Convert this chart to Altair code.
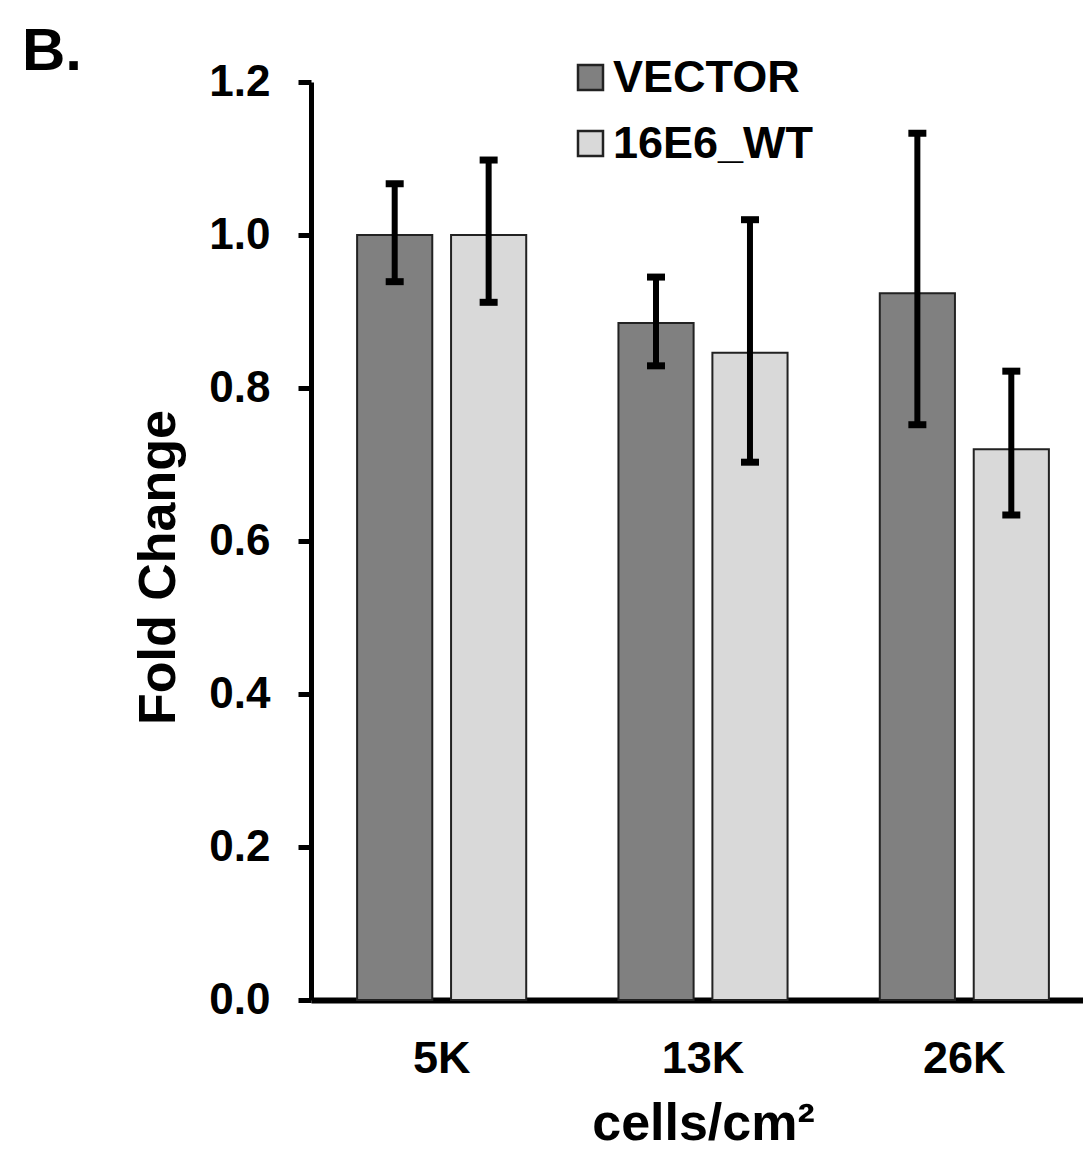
import altair as alt
import pandas as pd

densities = ["5K", "13K", "26K"]
groups = ["VECTOR", "16E6_WT"]
vector_mean = [1.000, 0.885, 0.924]
vector_lo = [0.939, 0.829, 0.752]
vector_hi = [1.067, 0.945, 1.133]
wt_mean = [1.000, 0.846, 0.720]
wt_lo = [0.912, 0.703, 0.634]
wt_hi = [1.098, 1.020, 0.822]

rows = []
for i, d in enumerate(densities):
    rows.append({"density": d, "group": "VECTOR", "mean": vector_mean[i], "lo": vector_lo[i], "hi": vector_hi[i]})
    rows.append({"density": d, "group": "16E6_WT", "mean": wt_mean[i], "lo": wt_lo[i], "hi": wt_hi[i]})
df = pd.DataFrame(rows)

FONT = "Liberation Sans, Arial, Helvetica, sans-serif"

x_enc = alt.X(
    "density:N",
    sort=densities,
    scale=alt.Scale(range=[0, 784], paddingInner=0.281, paddingOuter=0.1405),
    axis=alt.Axis(
        title="cells/cm²",
        labelAngle=0,
        ticks=False,
        grid=False,
        labelPadding=36,
        labelFontSize=45,
        labelFont=FONT,
        labelFontWeight="bold",
        labelColor="black",
        domainColor="black",
        domainWidth=6,
        titleFontSize=52,
        titleFont=FONT,
        titleFontWeight="bold",
        titleColor="black",
        titleBaseline="alphabetic",
        titleX=392,
        titleY=139,
    ),
)
xoff_enc = alt.XOffset("group:N", sort=groups, scale=alt.Scale(paddingInner=0.2, paddingOuter=0.1))

y_scale = alt.Scale(domain=[0, 1.2], nice=False)
y_axis = alt.Axis(
    title="Fold Change",
    values=[0, 0.2, 0.4, 0.6, 0.8, 1.0, 1.2],
    format=".1f",
    grid=False,
    tickSize=13,
    tickWidth=5,
    tickColor="black",
    domainColor="black",
    domainWidth=5,
    labelPadding=28,
    labelFontSize=44,
    labelFont=FONT,
    labelFontWeight="bold",
    labelColor="black",
    titleFontSize=52,
    titleFont=FONT,
    titleFontWeight="bold",
    titleColor="black",
    titleBaseline="middle",
    titleX=-153,
    titleY=485,
)

base = alt.Chart(df)

bars = base.mark_bar(stroke="#222222", strokeWidth=2, opacity=1).encode(
    x=x_enc,
    xOffset=xoff_enc,
    y=alt.Y("mean:Q", scale=y_scale, axis=y_axis),
    color=alt.Color(
        "group:N",
        sort=groups,
        scale=alt.Scale(domain=groups, range=["#808080", "#d9d9d9"]),
        legend=alt.Legend(
            title=None,
            orient="none",
            legendX=257,
            legendY=-27,
            symbolType="square",
            symbolSize=625,
            symbolStrokeColor="#222222",
            symbolStrokeWidth=2.5,
            symbolOpacity=1,
            labelFontSize=45,
            labelFont=FONT,
            labelFontWeight="bold",
            labelColor="black",
            labelOffset=0,
            labelLimit=600,
            rowPadding=20,
        ),
    ),
)

rules = base.mark_rule(color="black", strokeWidth=6, opacity=1).encode(
    x=alt.X("density:N", sort=densities),
    xOffset=alt.XOffset("group:N", sort=groups),
    y=alt.Y("lo:Q"),
    y2="hi:Q",
)

caps_hi = base.mark_tick(color="black", thickness=7, size=18, orient="horizontal", opacity=1).encode(
    x=alt.X("density:N", sort=densities),
    xOffset=alt.XOffset("group:N", sort=groups),
    y=alt.Y("hi:Q"),
)
caps_lo = base.mark_tick(color="black", thickness=7, size=18, orient="horizontal", opacity=1).encode(
    x=alt.X("density:N", sort=densities),
    xOffset=alt.XOffset("group:N", sort=groups),
    y=alt.Y("lo:Q"),
)

chart = (
    alt.layer(bars, rules, caps_hi, caps_lo)
    .properties(
        width=772,
        height=918,
        background="white",
        autosize=alt.AutoSizeParams(type="none"),
        padding={"left": 303, "top": 74, "right": 0, "bottom": 150},
        title=alt.TitleParams(
            "B.",
            anchor="start",
            frame="group",
            dx=-289,
            dy=79,
            fontSize=60,
            font=FONT,
            fontWeight="bold",
            color="black",
            baseline="alphabetic",
        ),
    )
    .configure_view(stroke="transparent", strokeWidth=0)
    .configure_axis(grid=False)
)

chart.save("out.html", embed_options={"renderer": "svg", "actions": False})
